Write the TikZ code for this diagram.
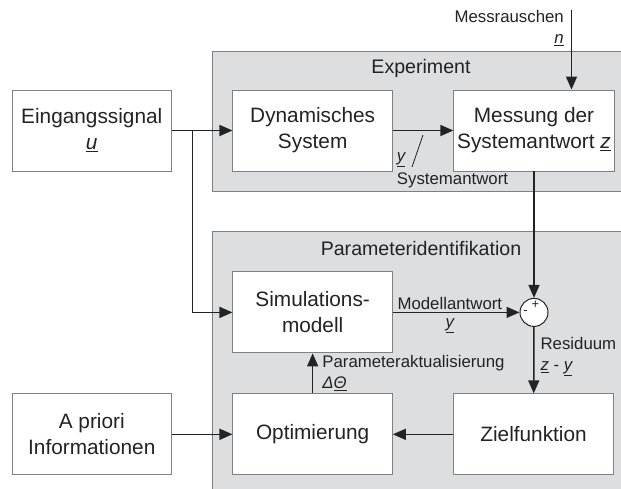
\documentclass[tikz,border=0pt]{standalone}
\usepackage{fontspec}
\setmainfont{Liberation Sans}
\usepackage{xcolor}
\usetikzlibrary{arrows.meta,positioning,calc}
\definecolor{panelgray}{RGB}{221,222,224}
\definecolor{framegray}{RGB}{128,128,128}
\definecolor{inkgray}{RGB}{35,35,35}

\begin{document}
\begin{tikzpicture}[x=1pt, y=-1pt,
    box/.style={draw=framegray, line width=0.9pt, fill=white,
                minimum width=159.5pt, minimum height=81pt, align=center,
                text=inkgray, font=\fontsize{20.8}{26}\selectfont},
    panel/.style={draw=framegray, line width=1pt, fill=panelgray},
    title/.style={text=inkgray, font=\fontsize{19.6}{23}\selectfont},
    lbl/.style={text=inkgray, font=\fontsize{16.8}{21}\selectfont, inner sep=2pt},
    arr/.style={-{Triangle[length=13pt,width=11pt]}, line width=1.5pt, inkgray},
    sign/.style={text=inkgray, font=\fontsize{13}{13}\selectfont, inner sep=0pt},
    node distance=60.5pt
]
\useasboundingbox (0,0) rectangle (621,488);

% grey groups behind the blocks
\path[panel] (212,51) rectangle (640,191);
\path[panel] (212,231) rectangle (640,500);
\node[title] (exptitle) at (421,68) {Experiment};
\node[title] (pidtitle) at (421,248) {Parameteridentifikation};

\node[box] (eing) at (91.75,130.5) {Eingangssignal\\\textit{\underline{u}}};
\node[box, right=of eing] (dyn)  {Dynamisches\\System};
\node[box, right=of dyn]  (mess) {Messung der\\Systemantwort \textit{\underline{z}}};
\node[box, below=100pt of dyn] (sim) {Simulations-\\modell};
\node[box, below=40pt of sim]  (opt) {Optimierung};
\node[box, right=of opt] (ziel)  {Zielfunktion};
\node[box, left=of opt]  (prior) {A priori\\Informationen};

% summing point
\node[draw=inkgray, line width=1pt, fill=white, circle, minimum size=28pt,
      inner sep=0pt] (sum) at (mess |- sim) {};
\node[sign] (plus)  at ([xshift=1.5pt, yshift=8pt]sum.center) {+};
\node[sign] (minus) at ([xshift=-8.5pt]sum.center) {-};

\coordinate (branch) at ([xshift=20.5pt]eing.east);
\coordinate (noise) at (571.5,10);
\coordinate (slashlo) at (412,167);
\coordinate (slashhi) at (423,135);

\draw[arr] (eing) -- (dyn);
\draw[arr] (branch) |- (sim);
\draw[arr] (dyn) -- (mess);
\draw[inkgray, line width=0.8pt] (slashlo) -- (slashhi);
\node[lbl] (youtlbl) at (401,160) {\textit{\underline{y}}};
\node[lbl] (syslbl) at (452.5,180) {Systemantwort};

\draw[arr] (noise) -- (noise |- mess.north);
\node[lbl, anchor=east, align=right] (noiselbl) at (566,28)
    {Messrauschen\\\textit{\underline{n}}};

\draw[arr] (mess) -- (sum);
\draw[arr] (sim) -- node[lbl, above, pos=0.45] (modlbl) {Modellantwort}
                    node[lbl, below=3pt, pos=0.45] (ylbl) {\textit{\underline{y}}} (sum);
\draw[arr] (sum) -- node[lbl, right=4pt, align=left, pos=0.45] (reslbl)
    {Residuum\\\textit{\underline{z}} - \textit{\underline{y}}} (ziel);
\draw[arr] (ziel) -- (opt);
\draw[arr] (opt) -- node[lbl, right=7pt, align=left] (updlbl)
    {Parameteraktualisierung\\\textit{Δ\underline{Θ}}} (sim);
\draw[arr] (prior) -- (opt);
\end{tikzpicture}
\end{document}
